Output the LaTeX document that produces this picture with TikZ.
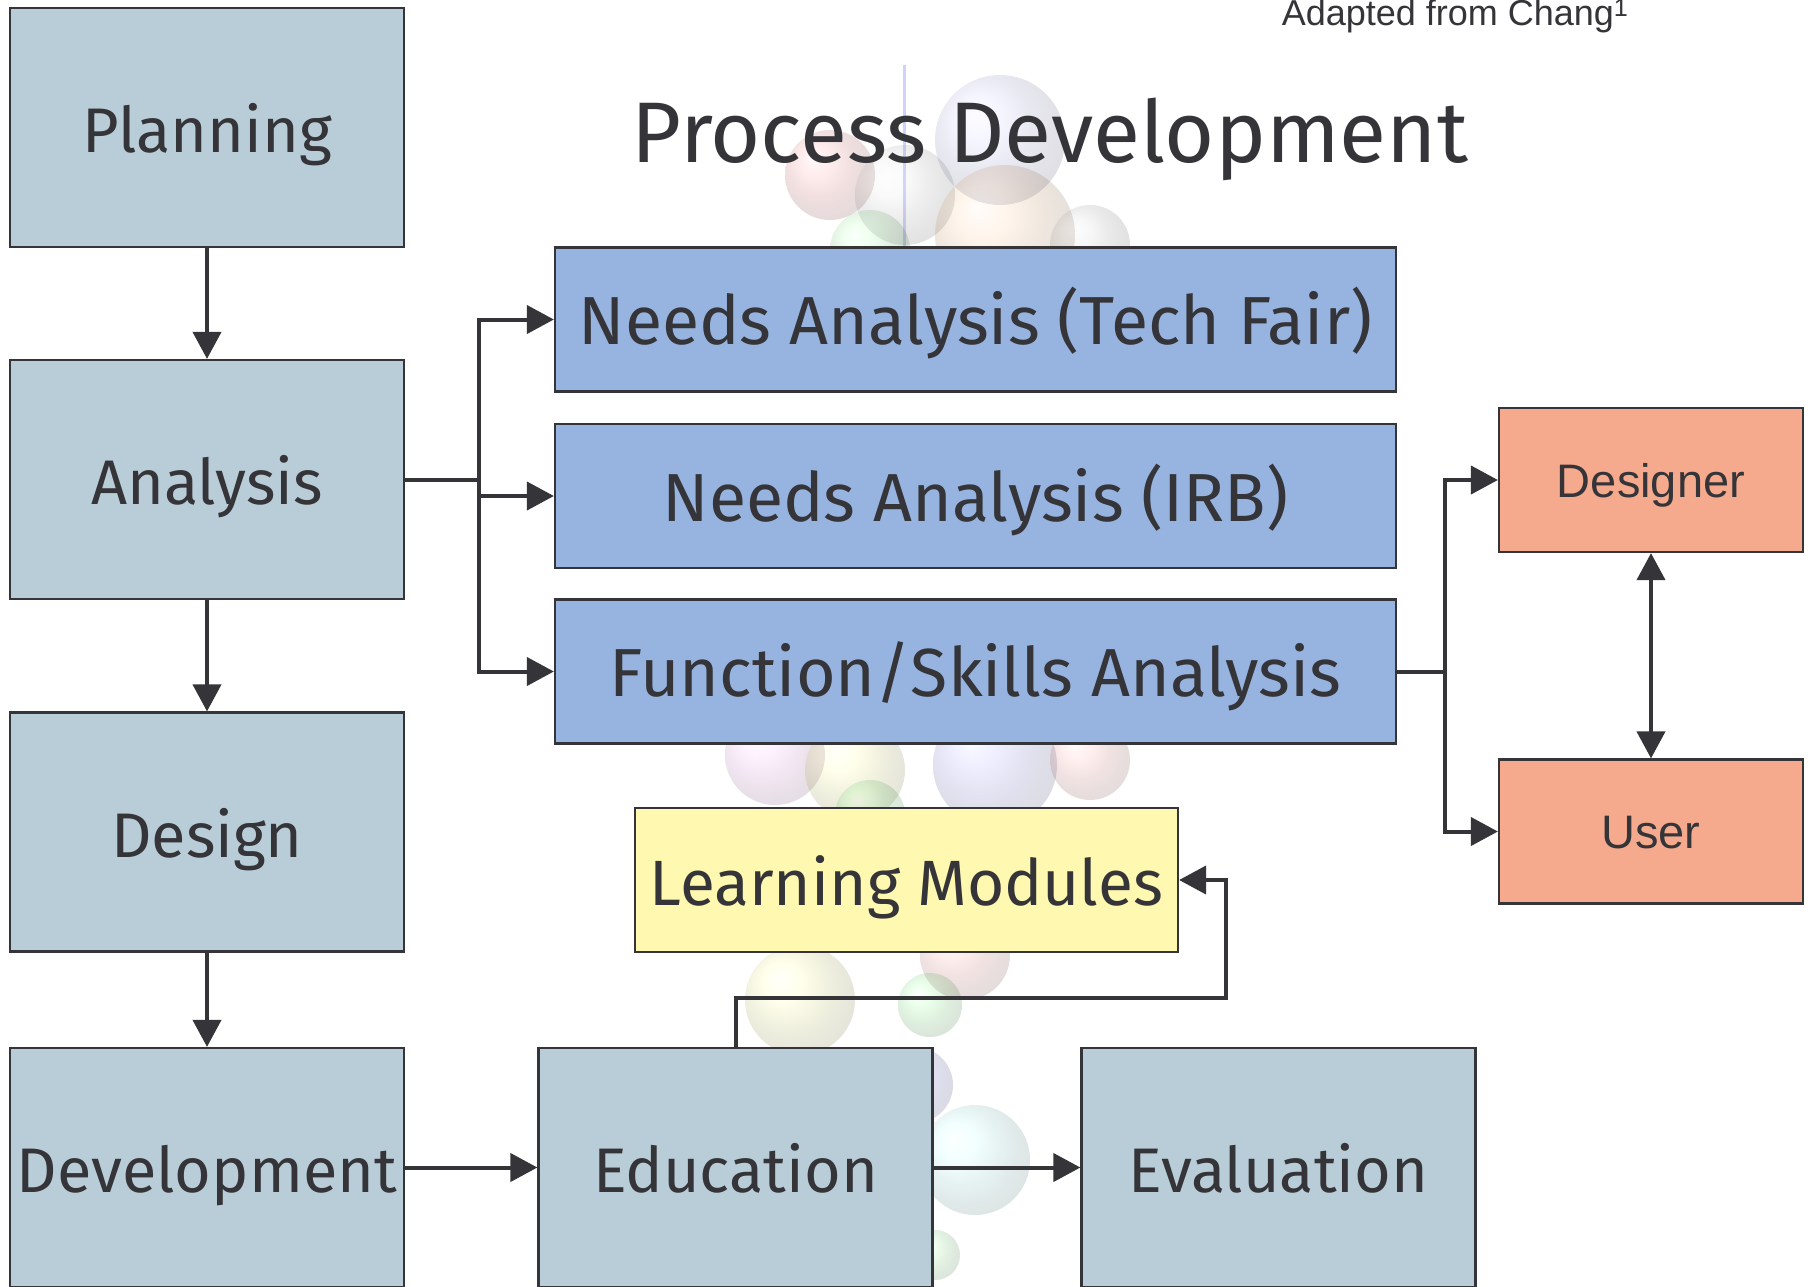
\documentclass[tikz,border=0pt]{standalone}
\usepackage{fontspec}
\setmainfont{Fira Sans}
\newfontfamily\arialf{Liberation Sans}
\usetikzlibrary{arrows.meta,shadings}
\definecolor{ink}{HTML}{353539}
\definecolor{gbox}{HTML}{B9CDD8}
\definecolor{bbox}{HTML}{96B4DF}
\definecolor{sbox}{HTML}{F6AA8D}
\definecolor{ybox}{HTML}{FFF8B0}
\begin{document}
\begin{tikzpicture}[x=1pt,y=-1pt,
  box/.style={draw=ink,line width=2.2pt,inner sep=0pt,text=ink,text height=50pt,text depth=0pt,font=\fontsize{63}{70}\selectfont},
  grey/.style={box,fill=gbox,minimum width=394pt,minimum height=239pt},
  blue/.style={box,fill=bbox,minimum width=841pt,minimum height=144pt,font=\fontsize{68}{74}\selectfont},
  salmon/.style={box,fill=sbox,minimum width=304pt,minimum height=144pt,text height=34pt,font=\arialf\fontsize{47}{50}\selectfont},
  yel/.style={box,fill=ybox,minimum width=543pt,minimum height=144pt,font=\fontsize{64}{70}\selectfont},
  conn/.style={draw=ink,line width=4pt},
  arr/.style={conn,-{Triangle[length=27pt,width=28pt]}},
  darr/.style={conn,{Triangle[length=27pt,width=28pt]}-{Triangle[length=27pt,width=28pt]}},
  bub/.style={shading=ball,fill opacity=0.17,draw=none}
]
\useasboundingbox (0,0) rectangle (1813,1286);
\clip (0,0) rectangle (1813,1286);
\fill[white] (0,0) rectangle (1813,1286);
% faint molecule background
\draw[blue!40,line width=3pt,opacity=0.45] (904,65) -- (904,250);
\shade[bub,ball color=red!60] (830,175) circle (45);
\shade[bub,ball color=gray!30] (905,195) circle (50);
\shade[bub,ball color=blue!30] (1000,140) circle (65);
\shade[bub,ball color=orange!60] (1005,235) circle (70);
\shade[bub,ball color=green!50] (870,250) circle (40);
\shade[bub,ball color=gray!50] (1090,245) circle (40);
\shade[bub,ball color=magenta!40] (775,755) circle (50);
\shade[bub,ball color=yellow!60] (855,770) circle (50);
\shade[bub,ball color=blue!50] (995,765) circle (62);
\shade[bub,ball color=red!50] (1090,760) circle (40);
\shade[bub,ball color=green!60] (870,815) circle (35);
\shade[bub,ball color=red!50] (965,955) circle (45);
\shade[bub,ball color=yellow!60] (800,1000) circle (55);
\shade[bub,ball color=green!60] (930,1005) circle (32);
\shade[bub,ball color=blue!60] (915,1085) circle (38);
\shade[bub,ball color=cyan!40] (975,1160) circle (55);
\shade[bub,ball color=green!50] (935,1255) circle (25);
% title and note
\node[text=ink,font=\fontsize{86}{90}\selectfont] (title) at (1050,139) {Process Development};
\node[text=ink,font=\arialf\fontsize{36}{38}\selectfont,anchor=east] (note) at (1632,16) {Adapted from Chang\textsuperscript{1}};
% left column
\node[grey] (plan) at (207,127.5) {Planning};
\node[grey] (ana) at (207,479.5) {Analysis};
\node[grey] (des) at (207,832) {Design};
\node[grey] (dev) at (207,1167.5) {Development};
\node[grey] (edu) at (735.5,1167.5) {Education};
\node[grey] (eval) at (1278.5,1167.5) {Evaluation};
% blue boxes
\node[blue] (nt) at (975.5,319.5) {Needs Analysis (Tech Fair)};
\node[blue] (ni) at (975.5,496) {Needs Analysis (IRB)};
\node[blue] (fs) at (975.5,671.5) {Function/Skills Analysis};
% salmon
\node[salmon] (dsg) at (1651,480) {Designer};
\node[salmon] (usr) at (1651,831.5) {User};
% yellow
\node[yel] (lm) at (906.5,880) {Learning Modules};
% junctions
\coordinate (j1) at (479,479.5);
\coordinate (j2) at (1445,671.5);
\coordinate (c1) at (1226,998);
% connectors
\draw[arr] (plan.south) -- (ana.north);
\draw[arr] (ana.south) -- (des.north);
\draw[arr] (des.south) -- (dev.north);
\draw[arr] (dev.east) -- (edu.west);
\draw[arr] (edu.east) -- (eval.west);
\draw[conn] (ana.east) -- (j1);
\draw[arr] (j1) |- (nt.west);
\draw[arr] (j1) |- (ni.west);
\draw[arr] (j1) |- (fs.west);
\draw[conn] (fs.east) -- (j2);
\draw[arr] (j2) |- (dsg.west);
\draw[arr] (j2) |- (usr.west);
\draw[darr] (dsg.south) -- (usr.north);
\draw[arr] (edu.north) |- (c1) |- (lm.east);
\end{tikzpicture}
\end{document}
